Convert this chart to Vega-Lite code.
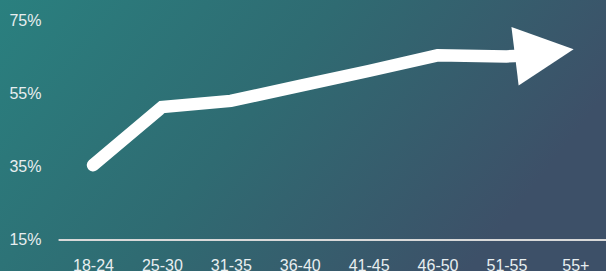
{
  "$schema": "https://vega.github.io/schema/vega-lite/v6.json",
  "width": 606,
  "height": 271,
  "autosize": "none",
  "padding": 0,
  "background": "#31687a",
  "config": {"view": {"stroke": null}},
  "datasets": {
    "series": [
      {"age": "18-24", "idx": 0, "value": 35.5},
      {"age": "25-30", "idx": 1, "value": 51.4},
      {"age": "31-35", "idx": 2, "value": 53.1},
      {"age": "36-40", "idx": 3, "value": 57.2},
      {"age": "41-45", "idx": 4, "value": 61.3},
      {"age": "46-50", "idx": 5, "value": 65.6},
      {"age": "51-55", "idx": 6, "value": 65.3},
      {"age": "trend", "idx": 6.12, "value": 65.4}
    ],
    "arrow": [
      {"age": "55+", "idx": 6.55, "value": 66.3}
    ]
  },
  "layer": [
    {
      "data": {"values": [{}]},
      "mark": {
        "type": "rect",
        "color": {
          "gradient": "linear",
          "x1": 0, "y1": 0, "x2": 1, "y2": 0.35,
          "stops": [
            {"offset": 0, "color": "#2a807f"},
            {"offset": 0.5, "color": "#2f6b72"},
            {"offset": 1, "color": "#3d5068"}
          ]
        }
      }
    },
    {
      "data": {"values": [{"from": -0.5, "to": 7.6, "base": 15}]},
      "mark": {"type": "rule", "color": "#d9d9d9", "strokeWidth": 2},
      "encoding": {
        "x": {"field": "from", "type": "quantitative", "scale": {"domain": [-1.35, 7.445], "nice": false, "zero": false},
          "axis": {
            "values": [0, 1, 2, 3, 4, 5, 6, 7],
            "labelExpr": "['18-24','25-30','31-35','36-40','41-45','46-50','51-55','55+'][datum.value]",
            "orient": "bottom",
            "offset": -31,
            "zindex": 2,
            "domain": false,
            "ticks": false,
            "grid": false,
            "title": null,
            "labelFont": "Liberation Sans",
            "labelFontSize": 16,
            "labelColor": "#e8eef0",
            "labelPadding": 17,
            "labelBaseline": "top",
            "labelFlush": false,
            "labelOverlap": false
          }},
        "x2": {"field": "to"},
        "y": {"field": "base", "type": "quantitative", "scale": {"domain": [6.5, 80.75], "nice": false, "zero": false},
          "axis": {
            "values": [15, 35, 55, 75],
            "labelExpr": "datum.value + '%'",
            "orient": "left",
            "offset": -58,
            "zindex": 2,
            "domain": false,
            "ticks": false,
            "grid": false,
            "title": null,
            "labelFont": "Liberation Sans",
            "labelFontSize": 16,
            "labelColor": "#e8eef0",
            "labelPadding": 17,
            "labelFlush": false,
            "labelOverlap": false
          }}
      }
    },
    {
      "data": {"name": "series"},
      "mark": {"type": "line", "color": "#ffffff", "strokeWidth": 12.5, "strokeCap": "round", "strokeJoin": "miter"},
      "encoding": {
        "x": {"field": "idx", "type": "quantitative"},
        "y": {"field": "value", "type": "quantitative"},
        "order": {"field": "idx"}
      }
    },
    {
      "data": {"name": "arrow"},
      "mark": {"type": "point", "shape": "M-1,-1L1,0L-1,1Z", "filled": true, "color": "#ffffff", "opacity": 1, "size": 3481, "angle": -7},
      "encoding": {
        "x": {"field": "idx", "type": "quantitative"},
        "y": {"field": "value", "type": "quantitative"}
      }
    }
  ]
}
